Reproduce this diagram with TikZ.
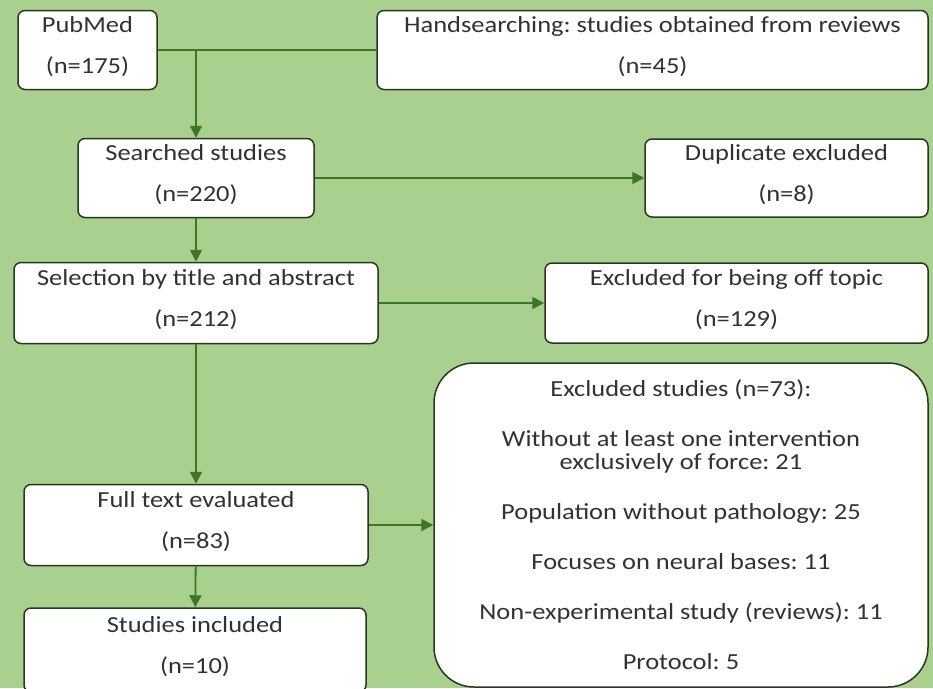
\documentclass[tikz,border=0pt]{standalone}
\usepackage{fontspec}
\setmainfont{Carlito}[FakeStretch=1.15]
\frenchspacing
\definecolor{bggreen}{RGB}{169,208,142}
\definecolor{linegreen}{RGB}{62,118,36}
\definecolor{boxline}{RGB}{40,55,32}
\definecolor{textgray}{RGB}{50,50,50}
\usetikzlibrary{arrows.meta}
\newcommand{\padb}{\rule[-9pt]{0pt}{9pt}}

\begin{document}
\begin{tikzpicture}[x=1pt, y=-1pt,
    stagebox/.style={rectangle, draw=boxline, line width=1.5pt, fill=white,
                     rounded corners=7pt, align=center, inner sep=0pt,
                     font=\fontsize{23}{27}\selectfont, text=textgray},
    arrow/.style={-{Triangle[length=12pt,width=12pt]}, line width=1.8pt, linegreen},
    link/.style={line width=1.8pt, linegreen}]

\useasboundingbox (0,0) rectangle (933,688);
\fill[bggreen] (0,0) rectangle (933,688);
\clip (0,0) rectangle (933,688);

% Sources
\node[stagebox, minimum width=139pt, minimum height=79pt] (pubmed) at (87.5,50)
    {PubMed\\[14pt](n=175)\padb};
\node[stagebox, minimum width=551pt, minimum height=79pt] (hand) at (652.5,50)
    {Handsearching: studies obtained from reviews\\[14pt](n=45)\padb};
\coordinate (join) at (196,50);

% Main column
\node[stagebox, minimum width=236pt, minimum height=79pt] (searched) at (196,178)
    {Searched studies\\[14pt](n=220)\padb};
\node[stagebox, minimum width=364pt, minimum height=81pt] (select) at (196,303)
    {Selection by title and abstract\\[14pt](n=212)\padb};
\node[stagebox, minimum width=344pt, minimum height=81pt] (fulltext) at (196,525)
    {Full text evaluated\\[14pt](n=83)\padb};
\node[stagebox, minimum width=342pt, minimum height=84pt] (included) at (195,650)
    {Studies included\\[14pt](n=10)\padb};

% Exclusions
\node[stagebox, minimum width=283pt, minimum height=78pt] (dup) at (786.5,178)
    {Duplicate excluded\\[14pt](n=8)\padb};
\node[stagebox, minimum width=383pt, minimum height=80pt] (offtopic) at (736.5,303)
    {Excluded for being off topic\\[14pt](n=129)\padb};
\node[stagebox, rounded corners=40pt, minimum width=494pt, minimum height=324pt] (excl) at (681,525)
    {Excluded studies (n=73):\\[23pt]Without at least one intervention\\[-4pt]exclusively of force: 21\\[23pt]Population without pathology: 25\\[23pt]Focuses on neural bases: 11\\[23pt]Non-experimental study (reviews): 11\\[23pt]Protocol: 5};

\draw[link] (pubmed) -- (hand);
\draw[arrow] (join) -- (searched);
\draw[arrow] (searched) -- (dup);
\draw[arrow] (searched) -- (select);
\draw[arrow] (select) -- (offtopic);
\draw[arrow] (select) -- (fulltext);
\draw[arrow] (fulltext) -- (excl);
\draw[arrow] (fulltext) -- (included);
\end{tikzpicture}
\end{document}
